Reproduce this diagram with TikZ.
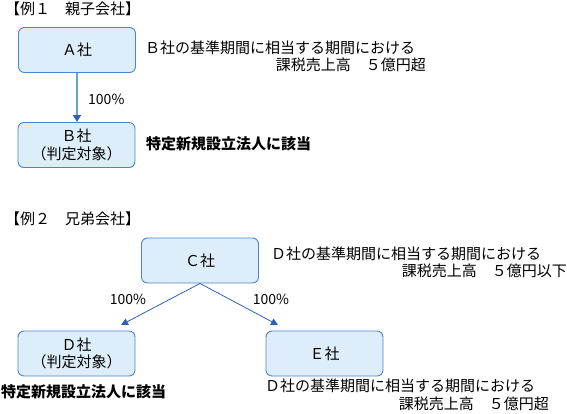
\documentclass[tikz,border=0pt]{standalone}
\usepackage{fontspec}
\setmainfont{Noto Sans CJK JP}
\usetikzlibrary{arrows.meta}
\definecolor{boxfill}{HTML}{DDEEFA}
\definecolor{boxline}{HTML}{4A86C8}
\definecolor{arrA}{HTML}{6E9ED6}
\definecolor{arrB}{HTML}{2D63B0}
\tikzset{
  corp/.style={draw=boxline, fill=boxfill, line width=0.9pt, rounded corners=6pt, minimum width=117pt, minimum height=45pt, align=center, font=\fontsize{15}{17.5}\selectfont, inner sep=0pt},
  txt/.style={font=\fontsize{15}{17}\selectfont, inner sep=0pt},
  btxt/.style={font=\fontsize{15}{17}\selectfont\bfseries, inner sep=0pt},
  pct/.style={font=\fontsize{14}{16}\selectfont, inner sep=0pt},
  lnk/.style={draw=arrB, line width=0.8pt, -{Triangle[length=7pt,width=7pt]}},
}
\begin{document}
\begin{tikzpicture}[x=1pt,y=-1pt]
\useasboundingbox (0,0) rectangle (567,413);
% Example 1
\node[txt, anchor=west] (t1) at (5,9) {【例１　親子会社】};
\node[corp] (A) at (77,50) {Ａ社};
\node[corp] (B) at (76.5,145) {Ｂ社\\（判定対象）};
\draw[draw=arrA, line width=1.8pt, -{Triangle[length=7pt,width=8pt,fill=arrB,color=arrB]}] (A.south -| 77,0) -- (77,122);
\node[pct, anchor=west] (p1) at (88,99) {100\%};
\node[txt, anchor=west] (a1) at (145,48) {Ｂ社の基準期間に相当する期間における};
\node[txt, anchor=east] (a2) at (426,65) {課税売上高　５億円超};
\node[btxt, anchor=west] (b1) at (146,144) {特定新規設立法人に該当};
% Example 2
\node[txt, anchor=west] (t2) at (5,219) {【例２　兄弟会社】};
\node[corp] (C) at (200,260.5) {Ｃ社};
\node[corp] (D) at (76.5,353.5) {Ｄ社\\（判定対象）};
\node[corp] (E) at (324.5,353.5) {Ｅ社};
\coordinate (cl) at (121,325);
\coordinate (cr) at (278,325);
\draw[lnk] (C.south) -- (cl);
\draw[lnk] (C.south) -- (cr);
\node[pct, anchor=center] (p2) at (128,299) {100\%};
\node[pct, anchor=center] (p3) at (271,299) {100\%};
\node[txt, anchor=west] (c1) at (271,254) {Ｄ社の基準期間に相当する期間における};
\node[txt, anchor=east] (c2) at (567,271) {課税売上高　５億円以下};
\node[btxt, anchor=west] (d1) at (1,392) {特定新規設立法人に該当};
\node[txt, anchor=west] (e1) at (265,386) {Ｄ社の基準期間に相当する期間における};
\node[txt, anchor=east] (e2) at (549,404) {課税売上高　５億円超};
\end{tikzpicture}
\end{document}
